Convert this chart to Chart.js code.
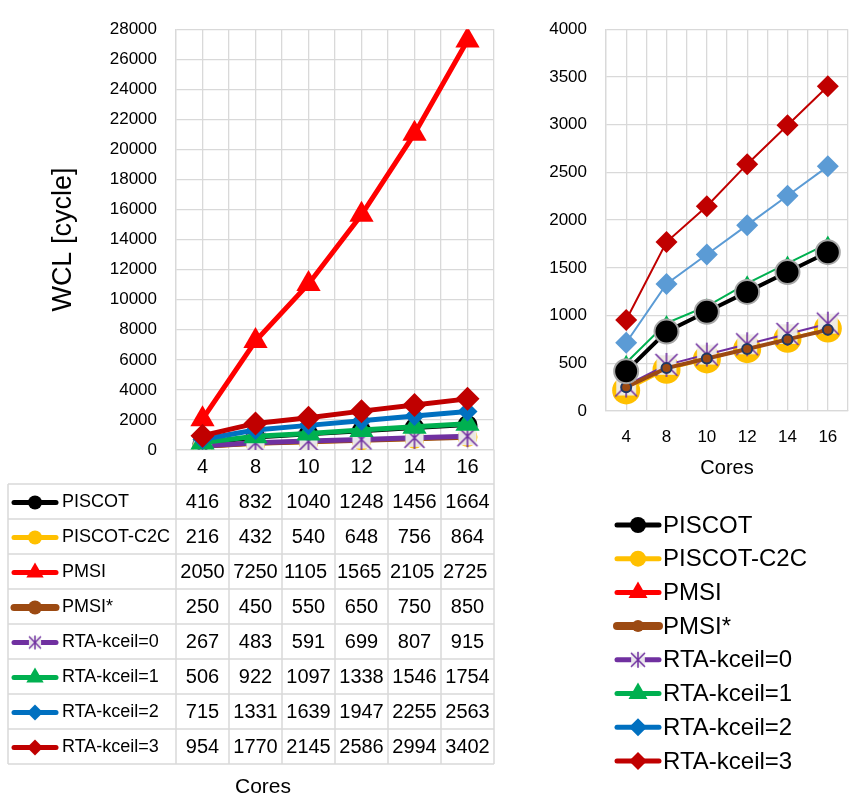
<!DOCTYPE html>
<html>
<head>
<meta charset="utf-8">
<script src="https://cdn.jsdelivr.net/npm/chart.js@4/dist/chart.umd.min.js"></script>
<style>
  html, body { margin: 0; padding: 0; background: #fff; overflow: hidden; width: 858px; height: 796px; }
  #wrap { position: relative; width: 858px; height: 796px; }
  canvas { position: absolute; top: 0; }
  #left { left: 0; }
  #right { left: 520px; }
</style>
</head>
<body>
<div id="wrap">
  <canvas id="left" width="520" height="796"></canvas>
  <canvas id="right" width="342" height="796"></canvas>
</div>
<script>
// Worst-case latency (cycles) per number of cores
const cores = ['4', '8', '10', '12', '14', '16'];
const piscot    = [416, 832, 1040, 1248, 1456, 1664];
const piscotC2C = [216, 432, 540, 648, 756, 864];
const pmsi      = [2050, 7250, 11050, 15650, 21050, 27250];
const pmsiStar  = [250, 450, 550, 650, 750, 850];
const rtaK0     = [267, 483, 591, 699, 807, 915];
const rtaK1     = [506, 922, 1097, 1338, 1546, 1754];
const rtaK2     = [715, 1331, 1639, 1947, 2255, 2563];
const rtaK3     = [954, 1770, 2145, 2586, 2994, 3402];

const seriesNames  = ['PISCOT', 'PISCOT-C2C', 'PMSI', 'PMSI*', 'RTA-kceil=0', 'RTA-kceil=1', 'RTA-kceil=2', 'RTA-kceil=3'];
const seriesValues = [piscot, piscotC2C, pmsi, pmsiStar, rtaK0, rtaK1, rtaK2, rtaK3];

const leftAxis  = { min: 0, max: 28000, step: 2000 };
const rightAxis = { min: 0, max: 4000, step: 500 };

const FONT = "'Liberation Sans', Arial, sans-serif";
const GRID = '#d9d9d9';
const plainNumber = v => String(v);

const colors  = ['#000000', '#FFC000', '#FF0000', '#9C4A12', '#7030A0', '#00B050', '#0070C0', '#C00000'];
const markers = ['circle', 'circle', 'triangle', 'circle', 'star', 'triangle', 'rectRot', 'rectRot'];

// asterisk marker on a light square, as an image point style
function makeStar(size, color, lw) {
  const c = document.createElement('canvas');
  c.width = c.height = size;
  const g = c.getContext('2d');
  g.fillStyle = 'rgba(238,238,238,0.95)';
  g.fillRect(size * 0.12, size * 0.12, size * 0.76, size * 0.76);
  g.strokeStyle = color;
  g.lineWidth = lw;
  g.beginPath();
  g.moveTo(size / 2, 1); g.lineTo(size / 2, size - 1);
  g.moveTo(2, 2); g.lineTo(size - 2, size - 2);
  g.moveTo(size - 2, 2); g.lineTo(2, size - 2);
  g.stroke();
  return c;
}

function drawMarker(ctx, type, x, y, r, fill, stroke, lw, starImg) {
  ctx.save();
  if (type === 'star') {
    ctx.drawImage(starImg, x - starImg.width / 2, y - starImg.height / 2);
    ctx.restore();
    return;
  }
  ctx.beginPath();
  if (type === 'circle') {
    ctx.arc(x, y, r, 0, Math.PI * 2);
  } else if (type === 'triangle') {
    ctx.moveTo(x, y - r);
    ctx.lineTo(x + r * 0.866, y + r * 0.5);
    ctx.lineTo(x - r * 0.866, y + r * 0.5);
    ctx.closePath();
  } else if (type === 'rectRot') {
    ctx.moveTo(x, y - r); ctx.lineTo(x + r, y); ctx.lineTo(x, y + r); ctx.lineTo(x - r, y);
    ctx.closePath();
  }
  ctx.fillStyle = fill;
  ctx.fill();
  if (lw) { ctx.strokeStyle = stroke; ctx.lineWidth = lw; ctx.stroke(); }
  ctx.restore();
}

function fitText(ctx, str, maxW) {
  let s = str;
  while (s.length > 1 && ctx.measureText(s).width > maxW) s = s.slice(0, -1);
  return s;
}

/* ---------- left chart: all series with data table ---------- */
const leftStar = makeStar(24, colors[4], 1.6);
const leftRadius = [10, 10, 14, 8, 12, 14, 10, 12];
const leftWidth  = [4, 4, 5, 5, 5, 5, 5, 5];

const leftDatasets = seriesNames.map((name, i) => ({
  label: name,
  data: seriesValues[i],
  borderColor: colors[i],
  backgroundColor: colors[i],
  borderWidth: leftWidth[i],
  pointStyle: markers[i] === 'star' ? leftStar : markers[i],
  pointRadius: leftRadius[i],
  pointBackgroundColor: colors[i],
  pointBorderColor: colors[i],
  pointBorderWidth: 0,
  tension: 0,
  order: seriesNames.length - 1 - i
}));

const tablePlugin = {
  id: 'dataTable',
  afterDraw(chart) {
    const ctx = chart.ctx;
    const xs = chart.scales.x;
    const ca = chart.chartArea;
    const step = xs.getPixelForValue(1) - xs.getPixelForValue(0);
    const edges = cores.map((_, i) => xs.getPixelForValue(i) - step / 2);
    edges.push(edges[edges.length - 1] + step);
    const top = ca.bottom + 34;
    const rowH = 35;
    const tableLeft = 8;
    const bottom = top + rowH * seriesNames.length;

    ctx.save();
    ctx.strokeStyle = GRID;
    ctx.lineWidth = 1.5;
    ctx.beginPath();
    edges.forEach(x => { ctx.moveTo(x, ca.bottom); ctx.lineTo(x, bottom); });
    ctx.moveTo(tableLeft, top); ctx.lineTo(tableLeft, bottom);
    for (let k = 0; k <= seriesNames.length; k++) {
      ctx.moveTo(tableLeft, top + k * rowH);
      ctx.lineTo(edges[edges.length - 1], top + k * rowH);
    }
    ctx.stroke();

    ctx.textBaseline = 'middle';
    seriesNames.forEach((name, i) => {
      const cy = top + rowH * (i + 0.5) + 1;
      // legend key
      ctx.strokeStyle = colors[i];
      ctx.lineWidth = i === 3 ? 7 : 5;
      ctx.lineCap = 'round';
      ctx.beginPath(); ctx.moveTo(14, cy); ctx.lineTo(56, cy); ctx.stroke();
      const kr = markers[i] === 'triangle' ? 10 : (markers[i] === 'rectRot' ? 8 : 7);
      drawMarker(ctx, markers[i], 35, cy, kr, colors[i], colors[i], 0, makeStar(16, colors[i], 1.4));
      ctx.fillStyle = '#000';
      ctx.font = '18px ' + FONT;
      ctx.textAlign = 'left';
      ctx.fillText(name, 62, cy);
      // values
      ctx.font = '20px ' + FONT;
      seriesValues[i].forEach((v, j) => {
        const str = String(v);
        const w = edges[j + 1] - edges[j];
        if (ctx.measureText(str).width <= w - 3) {
          ctx.textAlign = 'center';
          ctx.fillText(str, (edges[j] + edges[j + 1]) / 2, cy);
        } else {
          ctx.textAlign = 'left';
          ctx.fillText(fitText(ctx, str, w - 3), edges[j] + 2, cy);
        }
      });
    });

    ctx.font = '21px ' + FONT;
    ctx.textAlign = 'center';
    ctx.fillStyle = '#000';
    ctx.fillText('Cores', 263, 787);
    ctx.restore();
  }
};

new Chart(document.getElementById('left'), {
  type: 'line',
  data: { labels: cores, datasets: leftDatasets },
  options: {
    responsive: false,
    animation: false,
    devicePixelRatio: 1,
    layout: { padding: { left: 43, top: 17, right: 26, bottom: 312 } },
    plugins: { legend: { display: false }, tooltip: { enabled: false } },
    scales: {
      x: {
        type: 'category',
        offset: true,
        grid: { color: GRID, offset: false, drawTicks: false, lineWidth: 1.3 },
        border: { color: GRID, width: 1.3 },
        ticks: { color: '#000', font: { family: FONT, size: 20 }, padding: 5 },
        afterFit(s) { s.height = 34; }
      },
      x2: {
        type: 'category',
        position: 'bottom',
        offset: true,
        grid: { color: GRID, offset: true, drawTicks: false, lineWidth: 1.3 },
        border: { display: false },
        ticks: { display: false },
        afterFit(s) { s.height = 0; }
      },
      y: {
        min: leftAxis.min,
        max: leftAxis.max,
        grid: { color: GRID, drawTicks: false, lineWidth: 1.3 },
        border: { color: GRID, width: 1.3 },
        ticks: { stepSize: leftAxis.step, callback: plainNumber, color: '#000', font: { family: FONT, size: 17 }, padding: 19 },
        title: { display: true, text: 'WCL [cycle]', color: '#000', font: { family: FONT, size: 27 }, padding: { top: 4, bottom: 4 } },
        afterFit(s) { s.width = 133; }
      }
    }
  },
  plugins: [tablePlugin]
});

/* ---------- right chart: zoom on the lower series, with legend ---------- */
const rightStar = makeStar(26, colors[4], 1.6);
const rightSeries = [
  // index into seriesNames, colour, line width, marker radius, marker border, draw order
  { i: 7, color: '#C00000', lw: 2, r: 11, border: null, order: 0 },
  { i: 6, color: '#5B9BD5', lw: 2, r: 11, border: null, order: 1 },
  { i: 0, color: '#000000', lw: 4, r: 12, border: '#A6A6A6', order: 2 },
  { i: 5, color: '#00B050', lw: 2, r: 8,  border: null, order: 3 },
  { i: 3, color: '#9C4A12', lw: 4, r: 5,  border: '#1F3864', order: 4 },
  { i: 4, color: '#7030A0', lw: 2, r: 13, border: null, order: 5 },
  { i: 1, color: '#FFC000', lw: 2, r: 14, border: null, order: 6 }
];

const rightDatasets = rightSeries.map(s => ({
  label: seriesNames[s.i],
  data: seriesValues[s.i],
  borderColor: s.color,
  backgroundColor: s.color,
  borderWidth: s.lw,
  pointStyle: markers[s.i] === 'star' ? rightStar : markers[s.i],
  pointRadius: s.r,
  pointBackgroundColor: s.color,
  pointBorderColor: s.border || s.color,
  pointBorderWidth: s.border ? 2 : 0,
  tension: 0,
  order: s.order
}));

const legendPlugin = {
  id: 'sideLegend',
  afterDraw(chart) {
    const ctx = chart.ctx;
    ctx.save();
    ctx.textBaseline = 'middle';
    ctx.textAlign = 'left';
    ctx.font = '24px ' + FONT;
    seriesNames.forEach((name, i) => {
      const cy = 525 + i * 33.7;
      ctx.strokeStyle = colors[i];
      ctx.lineWidth = i === 3 ? 8 : 5;
      ctx.lineCap = 'round';
      ctx.beginPath(); ctx.moveTo(97, cy); ctx.lineTo(139, cy); ctx.stroke();
      const kr = markers[i] === 'triangle' ? 11 : (markers[i] === 'rectRot' ? 9 : (i === 3 ? 6 : 8));
      drawMarker(ctx, markers[i], 118, cy, kr, colors[i], colors[i], 0, makeStar(18, colors[i], 1.5));
      ctx.fillStyle = '#000';
      ctx.fillText(name, 143, cy + 1);
    });
    ctx.restore();
  }
};

new Chart(document.getElementById('right'), {
  type: 'line',
  data: { labels: cores, datasets: rightDatasets },
  options: {
    responsive: false,
    animation: false,
    devicePixelRatio: 1,
    layout: { padding: { left: 0, top: 20, right: 0, bottom: 300 } },
    plugins: { legend: { display: false }, tooltip: { enabled: false } },
    scales: {
      x: {
        type: 'category',
        offset: true,
        grid: { color: GRID, offset: false, drawTicks: false, lineWidth: 1.3 },
        border: { color: GRID, width: 1.3 },
        ticks: { color: '#000', font: { family: FONT, size: 17 }, padding: 16 },
        title: { display: true, text: 'Cores', color: '#000', font: { family: FONT, size: 20 }, padding: { top: 4, bottom: 16 } },
        afterFit(s) { s.height = 85; }
      },
      x2: {
        type: 'category',
        position: 'bottom',
        offset: true,
        grid: { color: GRID, offset: true, drawTicks: false, lineWidth: 1.3 },
        border: { display: false },
        ticks: { display: false },
        afterFit(s) { s.height = 0; }
      },
      y: {
        min: rightAxis.min,
        max: rightAxis.max,
        grid: { color: GRID, drawTicks: false, lineWidth: 1.3 },
        border: { color: GRID, width: 1.3 },
        ticks: { stepSize: rightAxis.step, callback: plainNumber, color: '#000', font: { family: FONT, size: 17 }, padding: 19 },
        afterFit(s) { s.width = 86; }
      }
    }
  },
  plugins: [legendPlugin]
});
</script>
</body>
</html>
